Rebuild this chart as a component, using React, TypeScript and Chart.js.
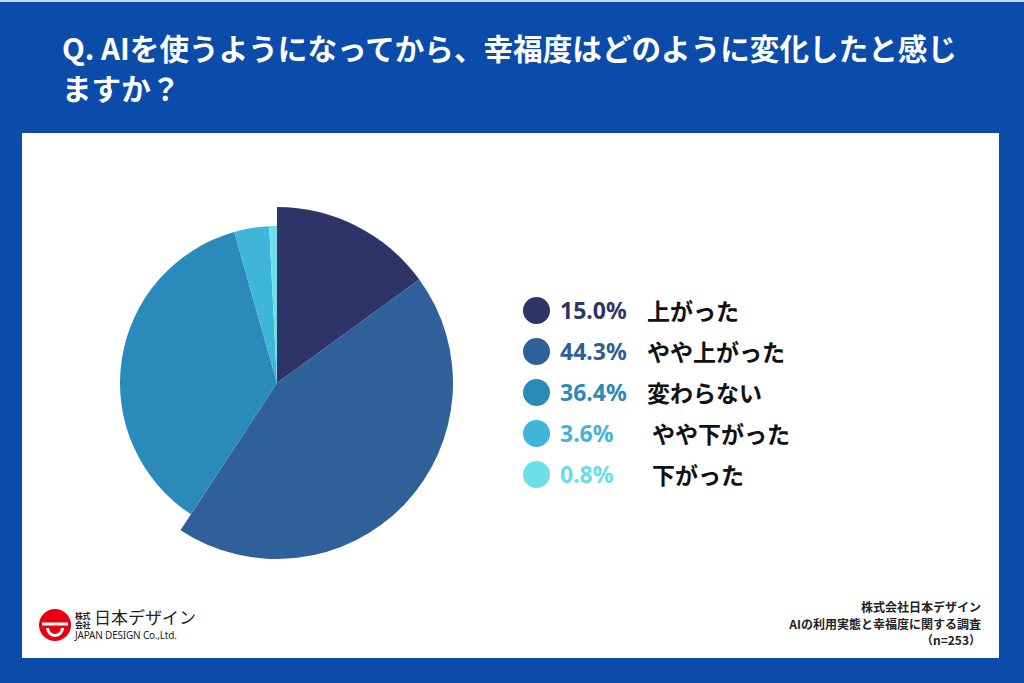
import React, { useEffect, useRef } from "react";
import { Chart, registerables } from "chart.js";

Chart.register(...registerables);

const categories = ["上がった", "やや上がった", "変わらない", "やや下がった", "下がった"];
const values = [15.0, 44.3, 36.4, 3.6, 0.8];
const sliceColors = ["#2E3468", "#2F6099", "#2A8BBA", "#3FB5D7", "#6EDFE8"];
const pctColors = ["#2E3468", "#2F5E96", "#2B89B8", "#45B3D5", "#6ADCE6"];
const radiusScale = [1, 1, 0.892, 0.892, 0.892];

const titleLines = ["Q. AIを使うようになってから、幸福度はどのように変化したと感じ", "ますか？"];
const footerLines = ["株式会社日本デザイン", "AIの利用実態と幸福度に関する調査", "（n=253）"];

const BLUE = "#0B4BAA";
const JP = '"Noto Sans CJK JP", "Noto Sans", sans-serif';

const varRadiusPlugin = {
  id: "varRadius",
  afterDatasetUpdate(chart: any, args: any) {
    const meta = args.meta;
    const base = meta.controller.outerRadius;
    meta.data.forEach((arc: any, i: number) => {
      arc.outerRadius = base * (radiusScale[i] ?? 1);
    });
  },
};

function PieChart() {
  const ref = useRef<HTMLCanvasElement | null>(null);
  useEffect(() => {
    if (!ref.current) return;
    const chart = new Chart(ref.current, {
      type: "pie",
      data: {
        labels: categories,
        datasets: [
          {
            data: values,
            backgroundColor: sliceColors,
            borderWidth: 0,
          },
        ],
      },
      options: {
        responsive: false,
        animation: false,
        layout: { padding: 4 },
        plugins: { legend: { display: false }, tooltip: { enabled: false } },
        events: [],
      },
      plugins: [varRadiusPlugin],
    });
    return () => chart.destroy();
  }, []);
  return (
    <canvas
      ref={ref}
      width={360}
      height={360}
      style={{ position: "absolute", left: 97, top: 203, width: 360, height: 360 }}
    />
  );
}

function Logo() {
  return (
    <div style={{ position: "absolute", left: 39, top: 606, width: 150, height: 38 }}>
      <svg width={32} height={32} viewBox="0 0 32 32" style={{ position: "absolute", left: 0, top: 3 }}>
        <circle cx={16} cy={16} r={16} fill="#E60012" />
        <rect x={3} y={13.5} width={26} height={3} fill="#fff" />
        <path d="M7 19 A9 9 0 0 0 25 19 L22 19 A6 6 0 0 1 10 19 Z" fill="#fff" />
      </svg>
      <div
        style={{
          position: "absolute",
          left: 36,
          top: 5,
          width: 20,
          fontFamily: JP,
          fontSize: 8,
          lineHeight: "9px",
          color: "#222",
          fontWeight: 700,
          letterSpacing: -0.5,
        }}
      >
        株式
        <br />
        会社
      </div>
      <div
        style={{
          position: "absolute",
          left: 55,
          top: -1,
          fontFamily: JP,
          fontSize: 17,
          lineHeight: "24px",
          color: "#222",
          whiteSpace: "nowrap",
        }}
      >
        日本デザイン
      </div>
      <div
        style={{
          position: "absolute",
          left: 36,
          top: 23,
          fontFamily: '"Liberation Sans Narrow", "Noto Sans", sans-serif',
          fontSize: 10,
          lineHeight: "12px",
          color: "#222",
          whiteSpace: "nowrap",
          letterSpacing: -0.2,
        }}
      >
        JAPAN DESIGN Co.,Ltd.
      </div>
    </div>
  );
}

export default function App() {
  return (
    <div
      style={{
        position: "fixed",
        left: 0,
        top: 0,
        width: 1024,
        height: 683,
        background: BLUE,
        overflow: "hidden",
      }}
    >
      <div style={{ position: "absolute", left: 0, top: 0, width: 1024, height: 2, background: "#C9D6EA" }} />
      <div
        style={{
          position: "absolute",
          left: 62,
          top: 28,
          color: "#fff",
          fontFamily: JP,
          fontWeight: 700,
          fontSize: 29.6,
          lineHeight: "40px",
          whiteSpace: "nowrap",
        }}
      >
        {titleLines.map((l, i) => (
          <div key={i}>{l}</div>
        ))}
      </div>
      <div
        style={{
          position: "absolute",
          left: 22,
          top: 133,
          width: 977,
          height: 525,
          background: "#fff",
        }}
      />
      <PieChart />
      <div style={{ position: "absolute", left: 523, top: 290 }}>
        {categories.map((c, i) => (
          <div key={i} style={{ position: "relative", height: 41 }}>
            <div
              style={{
                position: "absolute",
                left: 0,
                top: 7,
                width: 27,
                height: 27,
                borderRadius: "50%",
                background: sliceColors[i],
              }}
            />
            <div
              style={{
                position: "absolute",
                left: 37,
                top: 4,
                fontFamily: '"Noto Sans", sans-serif',
                fontWeight: 700,
                fontSize: 23,
                lineHeight: "32px",
                color: pctColors[i],
                whiteSpace: "nowrap",
              }}
            >
              {values[i].toFixed(1) + "%"}
            </div>
            <div
              style={{
                position: "absolute",
                left: i >= 3 ? 129 : 124,
                top: 4,
                fontFamily: JP,
                fontWeight: 700,
                fontSize: 23,
                lineHeight: "32px",
                color: "#111",
                whiteSpace: "nowrap",
              }}
            >
              {c}
            </div>
          </div>
        ))}
      </div>
      <Logo />
      <div
        style={{
          position: "absolute",
          right: 1024 - 981,
          top: 599,
          textAlign: "right",
          fontFamily: JP,
          fontWeight: 700,
          fontSize: 12,
          lineHeight: "16.5px",
          color: "#222",
          whiteSpace: "nowrap",
        }}
      >
        {footerLines.map((l, i) => (
          <div key={i}>{l}</div>
        ))}
      </div>
    </div>
  );
}
